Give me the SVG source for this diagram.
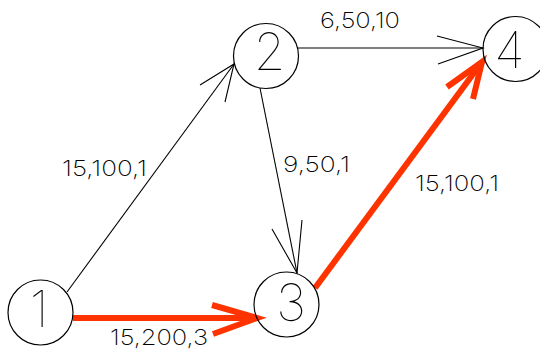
<svg xmlns="http://www.w3.org/2000/svg" width="540" height="351" viewBox="0 0 540 351">
<style>
.node circle{fill:none;stroke:#000;stroke-width:1.2}
.nl{font-family:Inter,"Liberation Sans",sans-serif;font-weight:100;font-size:51px;fill:#000;text-anchor:middle}
.el{font-family:Inter,"Liberation Sans",sans-serif;font-weight:200;font-size:22px;fill:#000}
.thin{fill:none;stroke:#000;stroke-width:1.1}
.red{fill:none;stroke:#ff3300;stroke-width:6;stroke-linecap:butt;stroke-linejoin:miter}
</style>
<rect width="540" height="351" fill="#fff"/>
<g id="connectors">
<path class="thin" d="M67,292 L234,64"/>
<path class="thin" d="M225,102 L234,64 L200,85"/>
<path class="thin" d="M298,48 L483,48"/>
<path class="thin" d="M437,36 L483,48 L438,64"/>
<path class="thin" d="M260,88 L297,273"/>
<path class="thin" d="M272,229 L297,273 L302,220"/>
<path class="red" d="M73,318 L257,318"/>
<path class="red" d="M212,305 L257,318 L213,334"/>
<path class="red" d="M315,288 L482,62"/>
<path class="red" d="M447,87 L482,62 L473,99"/>
<text class="el" x="62" y="176" textLength="85" lengthAdjust="spacingAndGlyphs">15,100,1</text>
<text class="el" x="320" y="28" textLength="80" lengthAdjust="spacingAndGlyphs">6,50,10</text>
<text class="el" x="283" y="172" textLength="67" lengthAdjust="spacingAndGlyphs">9,50,1</text>
<text class="el" x="415" y="191" textLength="84" lengthAdjust="spacingAndGlyphs">15,100,1</text>
<text class="el" x="110" y="345" textLength="98" lengthAdjust="spacingAndGlyphs">15,200,3</text>
</g>
<g id="node1" class="node"><circle cx="40.5" cy="312.5" r="32.5"/><text class="nl" x="39" y="327">1</text></g>
<g id="node2" class="node"><circle cx="266" cy="56" r="32.5"/><text class="nl" x="269.5" y="70">2</text></g>
<g id="node3" class="node"><circle cx="286.5" cy="304.5" r="32.5"/><text class="nl" x="291" y="321">3</text></g>
<g id="node4" class="node"><circle cx="515.5" cy="49" r="32.5"/><text class="nl" x="509.5" y="68">4</text></g>
</svg>
